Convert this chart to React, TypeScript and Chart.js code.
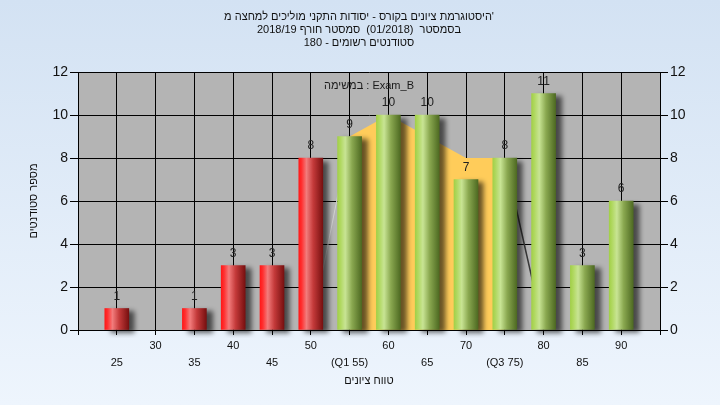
import React, { useEffect, useRef } from 'react';
import { Chart, registerables } from 'chart.js';

Chart.register(...registerables);

// ---- data ----
const grades = [25, 30, 35, 40, 45, 50, 55, 60, 65, 70, 75, 80, 85, 90];
const counts = [1, 0, 1, 3, 3, 8, 9, 10, 10, 7, 8, 11, 3, 6];
const tickLabels = ['25', '30', '35', '40', '45', '50', '(Q1 55)', '60', '65', '70', '(Q3 75)', '80', '85', '90'];
const q1Grade = 55;
const iqrGrades = [55, 60, 65, 70, 75];
const iqrCounts = [9, 10, 9, 8, 8];
const leftEdgeGrades = [50, 55];
const leftEdgeCounts = [0, 9];
const rightEdgeGrades = [75, 80];
const rightEdgeCounts = [8, 0];
const xMin = 20;
const xMax = 95;
const xStep = 5;
const yMax = 12;
const yStep = 2;

// ---- texts (words listed in the order they sit from left to right on screen) ----
const titleLines = [
  ['מ', 'למחצה', 'מוליכים', 'התקני', 'יסודות', '-', 'בקורס', 'ציונים', "היסטוגרמת'"],
  ['2018/19', 'חורף', 'סמסטר', '', '(01/2018)', '', 'בסמסטר'],
  ['180', '-', 'רשומים', 'סטודנטים'],
];
const xTitleWords = ['ציונים', 'טווח'];
const yTitle = 'מספר סטודנטים';
const innerLabel = 'במשימה : Exam_B';

const FONT = "'Liberation Sans', Arial, sans-serif";

function drawWords(ctx: CanvasRenderingContext2D, words: string[], cx: number, y: number) {
  const space = ctx.measureText(' ').width;
  const widths = words.map((w) => (w ? ctx.measureText(w).width : 0));
  const total = widths.reduce((a, b) => a + b, 0) + space * (words.length - 1);
  let x = cx - total / 2;
  ctx.textAlign = 'left';
  words.forEach((w, i) => {
    if (w) ctx.fillText(w, x, y);
    x += widths[i] + space;
  });
}

function barFill(c: any) {
  const chart = c.chart;
  const xs = chart.scales && chart.scales.x;
  const raw = c.raw;
  if (raw && raw.y === 0) return 'rgba(0,0,0,0)';
  const red = raw && raw.x < q1Grade;
  if (!xs || !raw) return red ? '#d02020' : '#90b850';
  const px = xs.getPixelForValue(raw.x);
  if (!isFinite(px)) return red ? '#d02020' : '#90b850';
  const g = chart.ctx.createLinearGradient(px - 12, 0, px + 12, 0);
  if (red) {
    g.addColorStop(0, '#ff1818');
    g.addColorStop(0.12, '#ff3030');
    g.addColorStop(0.32, '#f27c7c');
    g.addColorStop(0.6, '#c43a3a');
    g.addColorStop(1, '#781010');
  } else {
    g.addColorStop(0, '#a2d048');
    g.addColorStop(0.12, '#b0d860');
    g.addColorStop(0.32, '#c8e494');
    g.addColorStop(0.6, '#8aa850');
    g.addColorStop(1, '#4e6a22');
  }
  return g;
}

const bgPlugin = {
  id: 'bgPlugin',
  beforeDraw(chart: any) {
    const { ctx, width, height, chartArea } = chart;
    ctx.save();
    const g = ctx.createLinearGradient(0, 0, 0, height);
    g.addColorStop(0, '#d3e2f3');
    g.addColorStop(1, '#eef5fd');
    ctx.fillStyle = g;
    ctx.fillRect(0, 0, width, height);
    ctx.fillStyle = '#b4b4b4';
    ctx.fillRect(chartArea.left, chartArea.top, chartArea.right - chartArea.left, chartArea.bottom - chartArea.top);
    ctx.restore();
  },
};

const shadowPlugin = {
  id: 'barShadow',
  beforeDatasetDraw(chart: any, args: any) {
    if (args.meta.type !== 'bar') return;
    const ctx = chart.ctx;
    ctx.save();
    ctx.shadowColor = 'rgba(0,0,0,0.6)';
    ctx.shadowBlur = 5;
    ctx.shadowOffsetX = 6;
    ctx.shadowOffsetY = 3;
  },
  afterDatasetDraw(chart: any, args: any) {
    if (args.meta.type !== 'bar') return;
    chart.ctx.restore();
  },
};

const textPlugin = {
  id: 'textPlugin',
  afterDatasetsDraw(chart: any) {
    const { ctx, chartArea } = chart;
    const cx = (chartArea.left + chartArea.right) / 2;
    ctx.save();
    const meta = chart.getDatasetMeta(0);
    ctx.font = `12px ${FONT}`;
    ctx.fillStyle = '#202020';
    ctx.textAlign = 'center';
    ctx.textBaseline = 'middle';
    meta.data.forEach((el: any, i: number) => {
      const v = counts[i];
      if (!v) return;
      ctx.fillText(String(v), el.x, el.y - 12);
    });
    ctx.font = `11px ${FONT}`;
    ctx.fillStyle = '#1a1a1a';
    ctx.fillText(innerLabel, cx, chartArea.top + 14);
    ctx.fillStyle = '#111111';
    titleLines.forEach((words, i) => {
      drawWords(ctx, words, 359, 17 + i * 13);
    });
    drawWords(ctx, xTitleWords, cx, 381);
    ctx.restore();
  },
};

export default function App() {
  const ref = useRef<HTMLCanvasElement | null>(null);

  useEffect(() => {
    document.body.style.margin = '0';
    Chart.defaults.font.family = FONT;
    const canvas = ref.current;
    if (!canvas) return;

    const barData = grades.map((g, i) => ({ x: g, y: counts[i] }));
    const iqrData = iqrGrades.map((g, i) => ({ x: g, y: iqrCounts[i] }));
    const leftData = leftEdgeGrades.map((g, i) => ({ x: g, y: leftEdgeCounts[i] }));
    const rightData = rightEdgeGrades.map((g, i) => ({ x: g, y: rightEdgeCounts[i] }));

    const chart = new Chart(canvas, {
      type: 'bar',
      data: {
        datasets: [
          {
            type: 'bar',
            data: barData as any,
            backgroundColor: barFill as any,
            borderWidth: 0,
            barThickness: 24,
            order: 0,
            clip: { left: 2, top: 5, right: 12, bottom: 8 } as any,
          },
          {
            type: 'line',
            data: iqrData as any,
            fill: 'origin',
            backgroundColor: '#ffcc5a',
            borderWidth: 0,
            borderColor: 'rgba(0,0,0,0)',
            pointRadius: 0,
            tension: 0,
            order: 2,
          },
          {
            type: 'line',
            data: leftData as any,
            fill: false,
            borderColor: '#d0d0d0',
            borderWidth: 1,
            pointRadius: 0,
            order: 1,
          },
          {
            type: 'line',
            data: rightData as any,
            fill: false,
            borderColor: '#383838',
            borderWidth: 1.5,
            pointRadius: 0,
            order: 1,
          },
        ] as any,
      },
      options: {
        responsive: false,
        animation: false,
        events: [],
        layout: { padding: { top: 72, left: 0, right: 0, bottom: 0 } },
        plugins: {
          legend: { display: false },
          tooltip: { enabled: false },
          title: { display: false },
        },
        scales: {
          x: {
            type: 'linear',
            min: xMin,
            max: xMax,
            offset: false,
            grid: { offset: false, color: '#000', lineWidth: 1, tickLength: 5, drawTicks: true },
            border: { color: '#000', width: 1 },
            ticks: {
              stepSize: xStep,
              autoSkip: false,
              maxRotation: 0,
              minRotation: 0,
              padding: 2,
              color: '#111',
              font: { size: 11, lineHeight: 1.6 },
              callback: (value: any) => {
                const i = grades.indexOf(Number(value));
                if (i < 0) return '';
                const label = tickLabels[i];
                return i % 2 === 0 ? ['', label] : label;
              },
            },
            title: { display: false },
            afterFit: (s: any) => {
              s.height = 75;
            },
          },
          y: {
            position: 'left',
            min: 0,
            max: yMax,
            grid: { color: '#000', lineWidth: 1, tickLength: 8 },
            border: { color: '#000', width: 1 },
            ticks: { stepSize: yStep, padding: 2, color: '#111', font: { size: 14 } },
            title: {
              display: true,
              text: yTitle,
              color: '#111',
              font: { size: 11 },
              padding: { top: 27, bottom: 0 },
            },
            afterFit: (s: any) => {
              s.width = 78;
            },
          },
          y2: {
            position: 'right',
            min: 0,
            max: yMax,
            grid: { drawOnChartArea: false, color: '#000', lineWidth: 1, tickLength: 8 },
            border: { color: '#000', width: 1 },
            ticks: { stepSize: yStep, padding: 2, color: '#111', font: { size: 14 } },
            afterFit: (s: any) => {
              s.width = 60;
            },
          },
        },
      } as any,
      plugins: [bgPlugin, shadowPlugin, textPlugin],
    });

    return () => chart.destroy();
  }, []);

  return <canvas ref={ref} width={720} height={405} style={{ display: 'block' }} />;
}
